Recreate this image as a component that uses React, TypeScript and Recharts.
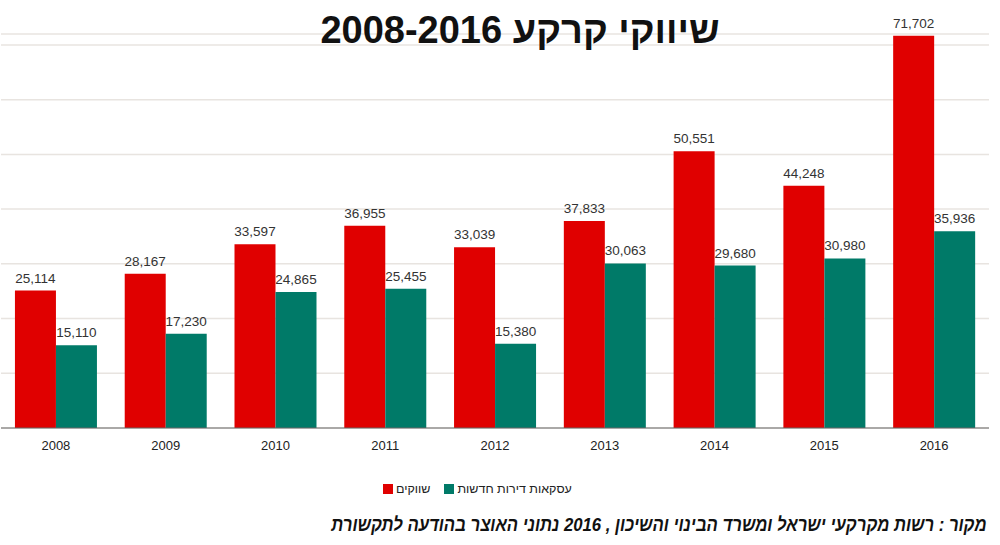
import { Bar, BarChart, CartesianGrid, LabelList, XAxis, YAxis } from "recharts";

const years = ["2008", "2009", "2010", "2011", "2012", "2013", "2014", "2015", "2016"];
const marketing = [25114, 28167, 33597, 36955, 33039, 37833, 50551, 44248, 71702];
const newDeals = [15110, 17230, 24865, 25455, 15380, 30063, 29680, 30980, 35936];
const seriesNames = ["שווקים", "עסקאות דירות חדשות"];
const seriesColors = ["#e00000", "#007a68"];
const yTicks = [0, 10000, 20000, 30000, 40000, 50000, 60000, 70000];
const edgeTicks = [0, 1, 2, 3, 4, 5, 6, 7, 8, 9];

const title = "שיווקי קרקע 2008-2016";
const source = "מקור : רשות מקרקעי ישראל ומשרד הבינוי והשיכון , 2016 נתוני האוצר בהודעה לתקשורת";

const data = years.map((year, i) => ({ year, marketing: marketing[i], newDeals: newDeals[i] }));

const font = "'Liberation Sans', Arial, sans-serif";
const fmt = (v: number) => v.toLocaleString("en-US");

export default function App() {
  return (
    <div style={{ position: "absolute", left: 0, top: 0, width: 1000, height: 545, background: "#fff", fontFamily: font }}>
      <BarChart
        width={1000}
        height={470}
        data={data}
        margin={{ top: 34, right: 11, bottom: 12, left: 1 }}
        barCategoryGap="12.7%"
        barGap={0}
      >
        <CartesianGrid vertical={false} stroke="#e8e4e0" strokeWidth={1.5} />
        <XAxis
          xAxisId="b"
          dataKey="year"
          axisLine={false}
          tickLine={false}
          height={25}
          tick={{ fill: "#222", fontSize: 13, fontFamily: font }}
        />
        <XAxis
          xAxisId="a"
          type="number"
          domain={[0, 9]}
          ticks={edgeTicks}
          tick={false}
          tickSize={4}
          height={5}
          stroke="#666"
        />
        <YAxis hide domain={[0, 72000]} ticks={yTicks} />
        <Bar xAxisId="b" dataKey="marketing" name={seriesNames[0]} fill={seriesColors[0]} isAnimationActive={false}>
          <LabelList dataKey="marketing" position="top" offset={8} formatter={fmt} fill="#333" fontSize={13.5} fontFamily={font} />
        </Bar>
        <Bar xAxisId="b" dataKey="newDeals" name={seriesNames[1]} fill={seriesColors[1]} isAnimationActive={false}>
          <LabelList dataKey="newDeals" position="top" offset={8} formatter={fmt} fill="#333" fontSize={13.5} fontFamily={font} />
        </Bar>
      </BarChart>

      <div
        style={{
          position: "absolute",
          top: 11,
          left: 520,
          transform: "translateX(-50%)",
          whiteSpace: "nowrap",
          direction: "rtl",
          fontSize: 38,
          lineHeight: "38px",
          fontWeight: "bold",
          color: "#111",
        }}
      >
        {title}
      </div>

      <div
        style={{
          position: "absolute",
          top: 482,
          left: 383,
          display: "flex",
          alignItems: "center",
          fontSize: 12.5,
          lineHeight: "14px",
          color: "#222",
        }}
      >
        {seriesNames.map((name, i) => (
          <div key={name} style={{ display: "flex", alignItems: "center", marginRight: 14 }}>
            <span style={{ display: "inline-block", width: 10, height: 10, background: seriesColors[i], marginRight: 3 }} />
            <span style={{ direction: "rtl" }}>{name}</span>
          </div>
        ))}
      </div>

      <div
        style={{
          position: "absolute",
          top: 514,
          right: 13,
          whiteSpace: "nowrap",
          direction: "rtl",
          fontSize: 19,
          lineHeight: "22px",
          fontWeight: "bold",
          fontStyle: "italic",
          color: "#111",
          transform: "scaleX(0.88)",
          transformOrigin: "right center",
        }}
      >
        {source}
      </div>
    </div>
  );
}
